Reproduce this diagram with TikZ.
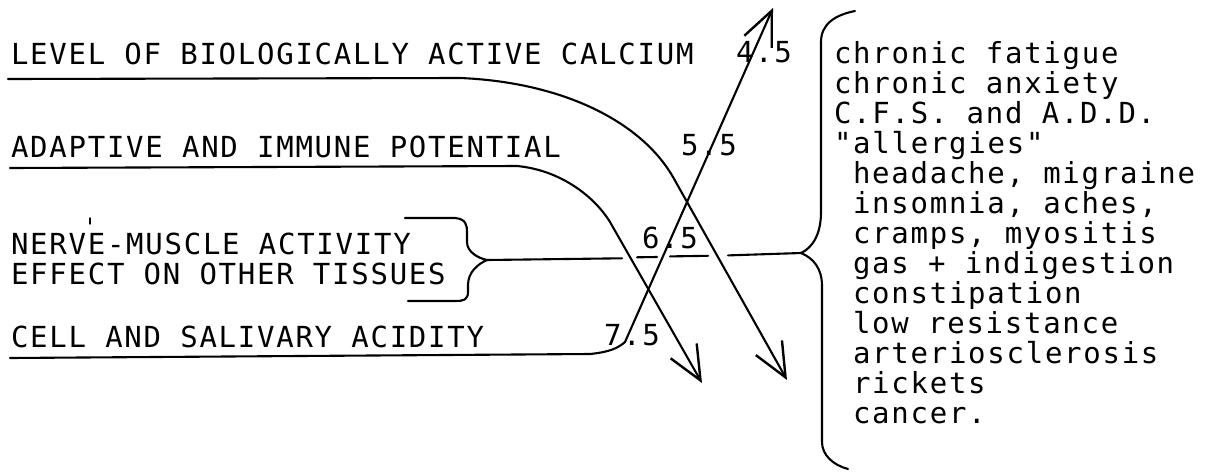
\documentclass[tikz,border=0pt]{standalone}
\usepackage{fontspec}
\newfontfamily\dotfont[LetterSpace=6]{DejaVu Sans Mono}
\newcommand\dotsize{\fontsize{29}{30}\selectfont}
\usetikzlibrary{arrows.meta}
\begin{document}
\begin{tikzpicture}[x=1pt, y=-1pt, line cap=round, line join=round, line width=2.1pt,
  lbl/.style={anchor=base west, inner sep=0pt, font=\dotfont\dotsize},
  barb/.style={-{Straight Barb[length=34pt, width=30pt, line width=2.4pt]}}]
\useasboundingbox (0,0) rectangle (1208,472);
    % left labels
\node[lbl] (lvl) at (10,64)  {LEVEL OF BIOLOGICALLY ACTIVE CALCIUM};
\node[lbl] (adp) at (10,157) {ADAPTIVE AND IMMUNE POTENTIAL};
\node[lbl] (nrv) at (10,254) {NERVE-MUSCLE ACTIVITY};
\node[lbl] (eff) at (10,284) {EFFECT ON OTHER TISSUES};
\node[lbl] (cel) at (10,347) {CELL AND SALIVARY ACIDITY};
\draw[line width=1.4pt] (90,218) -- (90,224);
    % pH values
\node[lbl] (n45) at (735,62)  {4.5};
\node[lbl] (n55) at (680,155) {5.5};
\node[lbl] (n65) at (641,248) {6.5};
\node[lbl] (n75) at (603,345) {7.5};
    % symptoms
\node[lbl] (s1)  at (833,63)  {chronic fatigue};
\node[lbl] (s2)  at (833,93)  {chronic anxiety};
\node[lbl] (s3)  at (833,123) {C.F.S. and A.D.D.};
\node[lbl] (s4)  at (833,153) {"allergies"};
\node[lbl] (s5)  at (852,183) {headache, migraine};
\node[lbl] (s6)  at (852,213) {insomnia, aches,};
\node[lbl] (s7)  at (852,243) {cramps, myositis};
\node[lbl] (s8)  at (852,273) {gas + indigestion};
\node[lbl] (s9)  at (852,303) {constipation};
\node[lbl] (s10) at (852,333) {low resistance};
\node[lbl] (s11) at (852,363) {arteriosclerosis};
\node[lbl] (s12) at (852,393) {rickets};
\node[lbl] (s13) at (852,423) {cancer.};
    % points of the connectors
\coordinate (L0) at (8,79);     \coordinate (L1) at (460,78);
\coordinate (L2) at (673,177);  \coordinate (L3) at (787,380);
\coordinate (A0) at (10,168);   \coordinate (A1) at (517,166);
\coordinate (A2) at (610,222);  \coordinate (A3) at (702,383);
\coordinate (C0) at (10,358);   \coordinate (C1) at (590,354);
\coordinate (C2) at (625,342);  \coordinate (C3) at (773,8);
\coordinate (BL) at (487,260);  % tip of left brace
\coordinate (BR) at (801,253);  % tip of right brace
    % underlines running into arrows
\draw[barb] (L0) -- (L1) .. controls (560,82) and (640,120) .. (L2) -- (L3);
\draw[barb] (A0) -- (A1) .. controls (560,170) and (594,196) .. (A2) -- (A3);
\draw[barb] (C0) -- (C1) .. controls (610,352) and (618,348) .. (C2) -- (C3);
    % left brace
\draw (405,218) -- (455,218) .. controls (466,219) and (467,225) .. (467,232)
      -- (467,242) .. controls (467,252) and (478,258) .. (BL)
      .. controls (478,264) and (468,272) .. (468,285) -- (468,292)
      .. controls (468,300) and (463,301) .. (456,301) -- (408,301);
    % right brace
\draw (855,11) .. controls (835,15) and (821,24) .. (821,42) -- (821,212)
      .. controls (821,235) and (812,248) .. (BR)
      .. controls (813,258) and (822,268) .. (822,286) -- (822,442)
      .. controls (822,455) and (833,465) .. (848,469);
    % line between braces, broken at the crossings
\draw (BL) -- (622,258.3);
\draw (637,257.3) -- (657,257);
\draw (670,256.4) -- (708,255.8);
\draw (728,255.4) -- (BR);
\end{tikzpicture}
\end{document}
